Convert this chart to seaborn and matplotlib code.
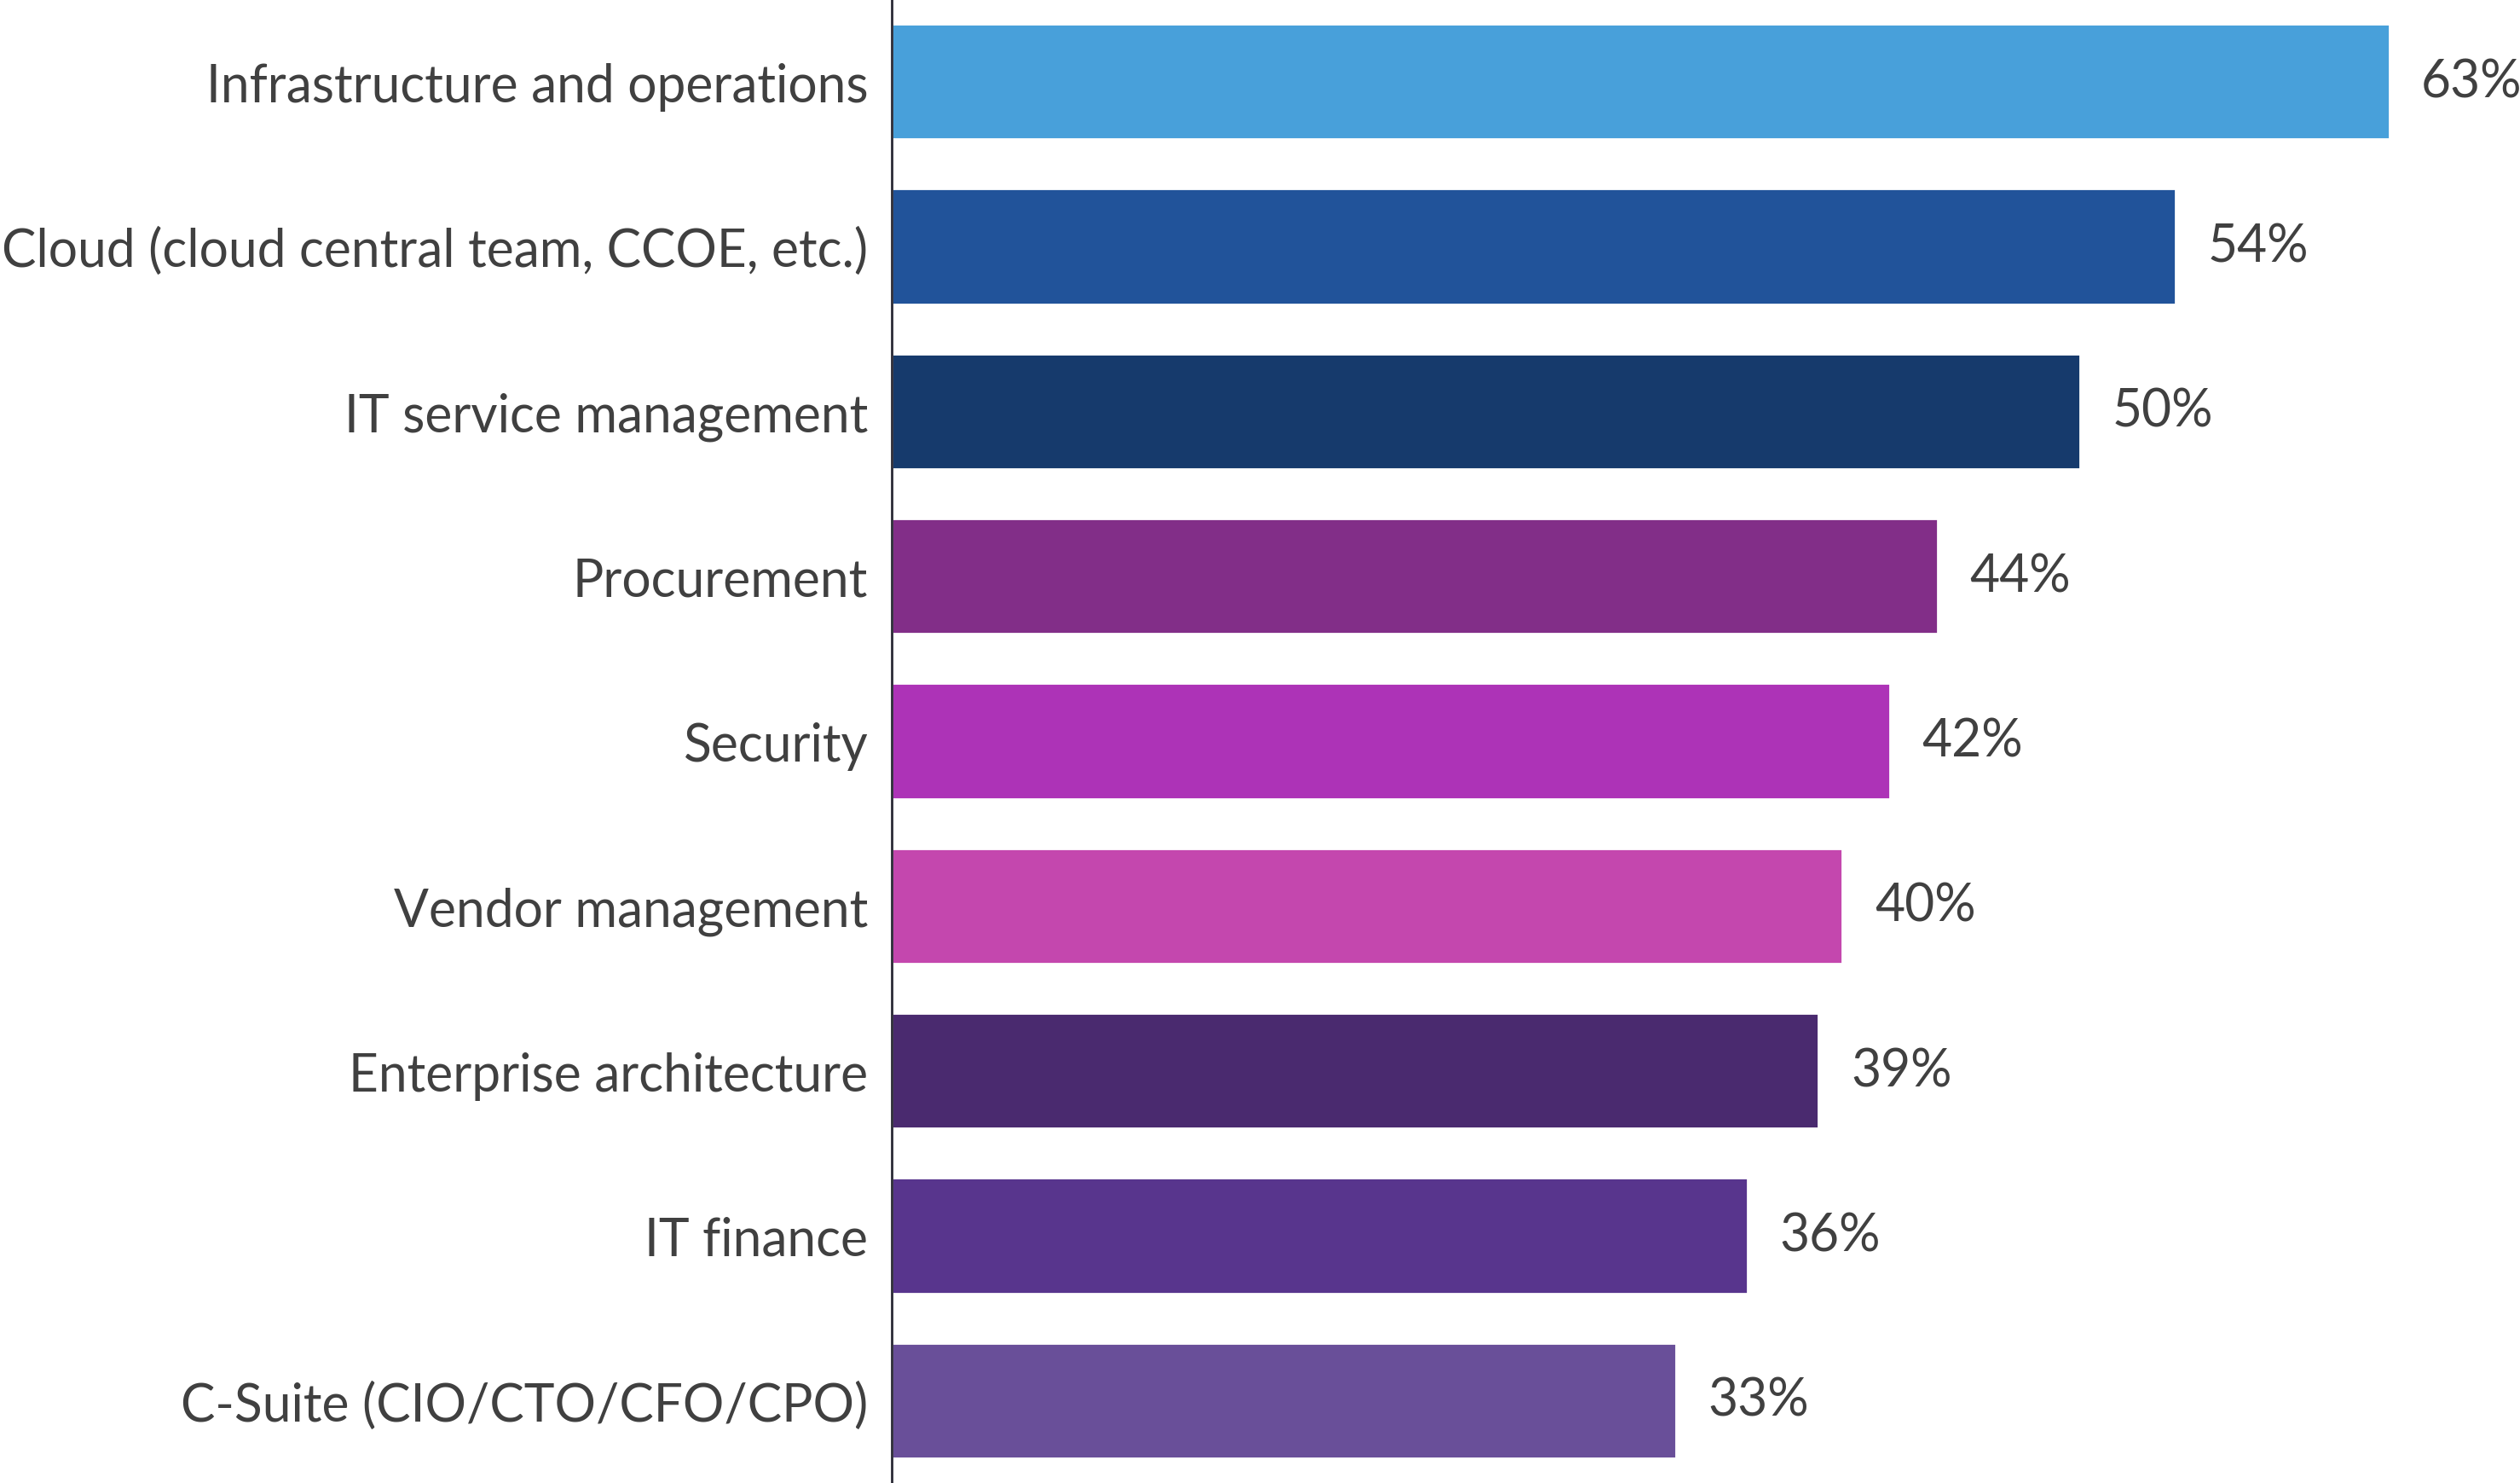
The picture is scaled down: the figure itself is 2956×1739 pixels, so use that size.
import pandas as pd
import seaborn as sns
import matplotlib.pyplot as plt

categories = [
    'Infrastructure and operations',
    'Cloud (cloud central team, CCOE, etc.)',
    'IT service management',
    'Procurement',
    'Security',
    'Vendor management',
    'Enterprise architecture',
    'IT finance',
    'C-Suite (CIO/CTO/CFO/CPO)',
]
values = [63, 54, 50, 44, 42, 40, 39, 36, 33]
colors = ['#48A0DA', '#21539A', '#163A6C', '#822E88', '#AD33B7',
          '#C447AE', '#4A2A6F', '#58358D', '#694F99']

df = pd.DataFrame({'Team': categories, 'Share': values})

sns.set_style('white')
plt.rcParams['font.family'] = ['Lato', 'DejaVu Sans']
text_color = '#404040'

fig = plt.figure(figsize=(14.78, 8.7), dpi=200)
ax = fig.add_axes([1046 / 2956, 0, 1 - 1046 / 2956, 1])

sns.barplot(data=df, x='Share', y='Team', hue='Team', palette=colors,
            order=categories, hue_order=categories, width=0.70,
            legend=False, ax=ax, saturation=1)

for i, v in enumerate(values):
    ax.annotate(f'{v}%', xy=(v, i), xytext=(13.5, 0), textcoords='offset points',
                va='center', ha='left', fontsize=21.8, color=text_color)

ax.set_xlim(0, 68.5)
ax.set_ylim(8.5, -0.5)
ax.set_xlabel('')
ax.set_ylabel('')
ax.set_xticks([])
ax.tick_params(axis='y', length=0, pad=10, labelsize=21.8, labelcolor=text_color)
for side in ['top', 'right', 'bottom']:
    ax.spines[side].set_visible(False)
ax.spines['left'].set_color('#2a2a35')
ax.spines['left'].set_linewidth(1.0)

fig.savefig('out.png', dpi=200)
